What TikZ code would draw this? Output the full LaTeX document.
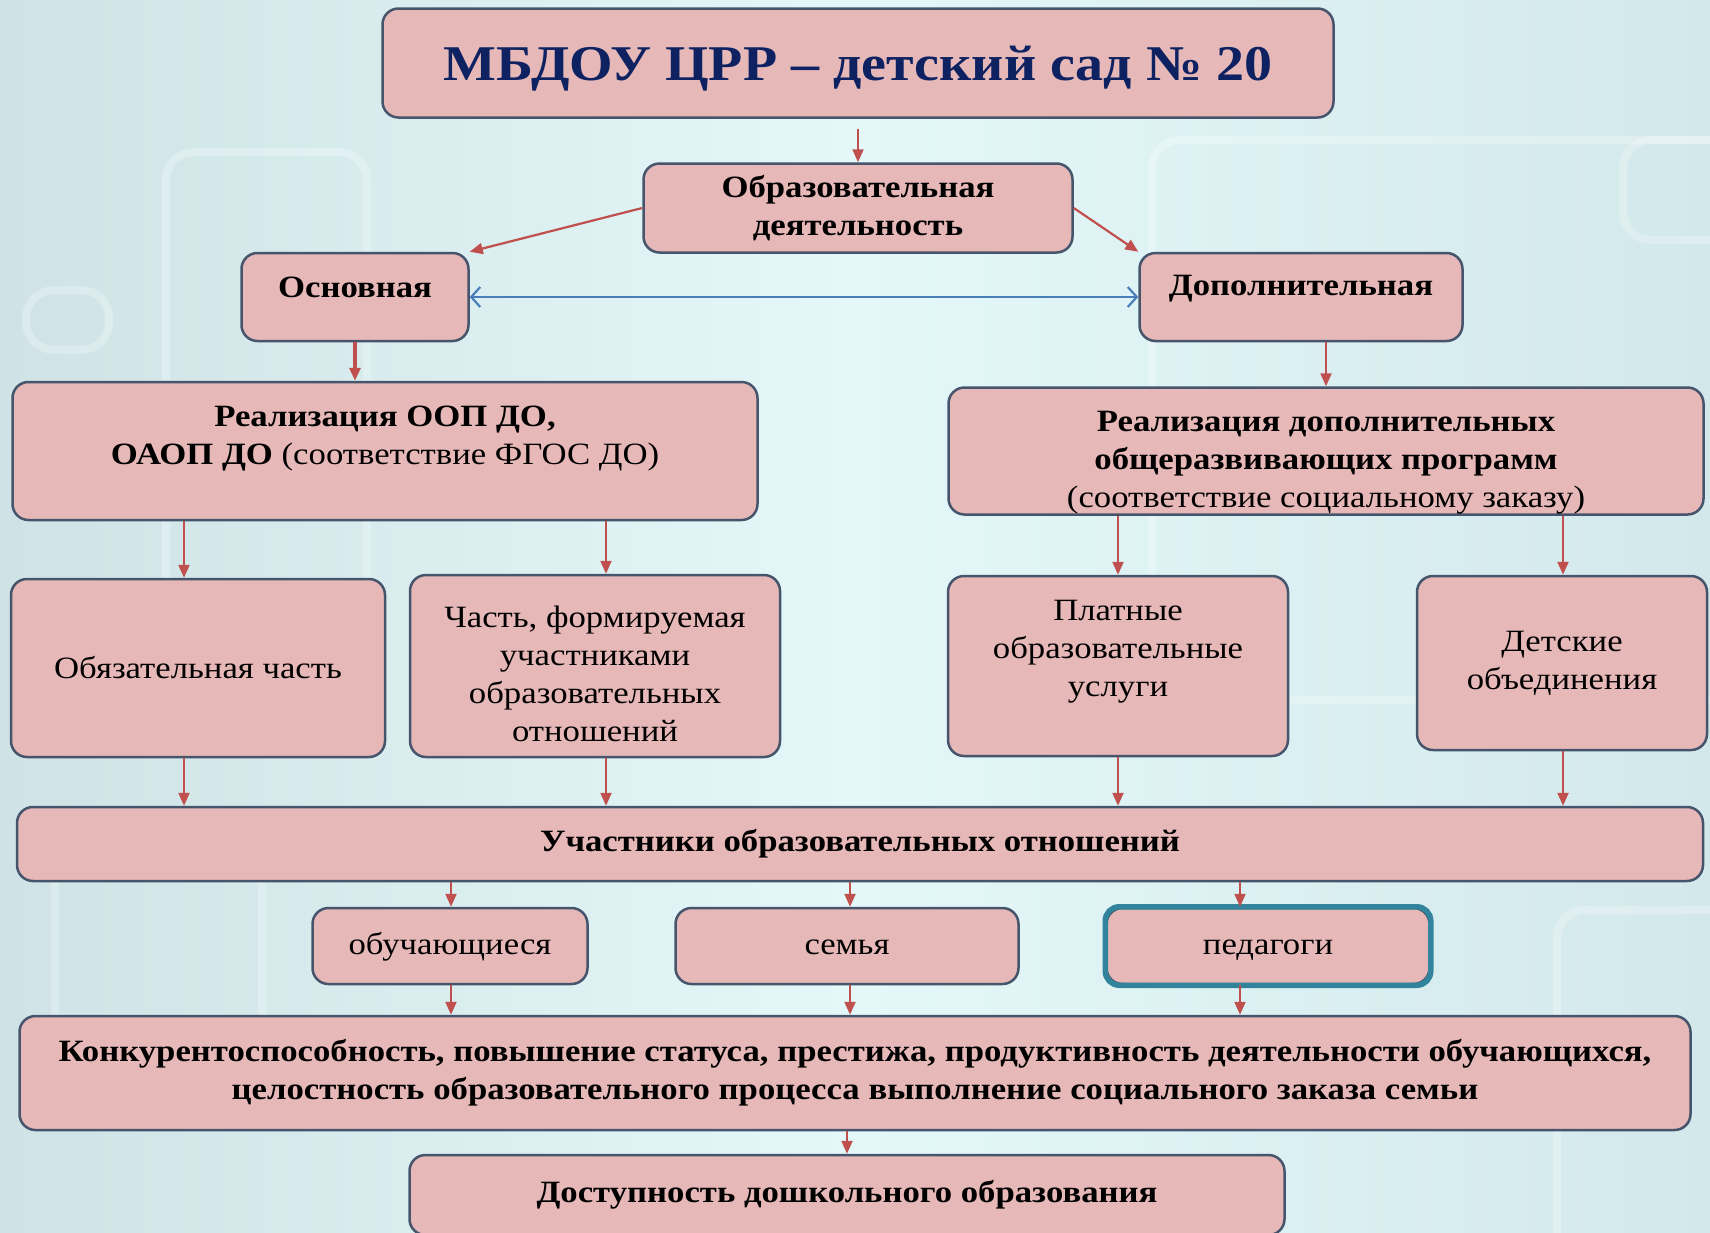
\documentclass[tikz,border=0pt]{standalone}
\usepackage{fontspec}
\setmainfont[FakeStretch=1.12]{Liberation Serif}
\usetikzlibrary{arrows.meta}

\definecolor{boxfill}{HTML}{E6B8B7}
\definecolor{boxline}{HTML}{46556B}
\definecolor{arrowred}{HTML}{C0504D}
\definecolor{arrowblue}{HTML}{4A7EBB}
\definecolor{titleblue}{HTML}{0E2262}
\definecolor{tealline}{HTML}{31849B}
\definecolor{bgleft}{HTML}{CFE3E6}
\definecolor{bgmid}{HTML}{E4F8F9}
\definecolor{bgright}{HTML}{D3E8EB}

\begin{document}
\begin{tikzpicture}[x=1pt,y=-1pt,
    box/.style={draw=boxline, line width=2.5pt, fill=boxfill, rounded corners=16pt,
        inner sep=0pt, align=center, font=\fontsize{31}{38}\selectfont},
    lbl/.style={align=center, font=\fontsize{31}{38}\selectfont},
    arr/.style={draw=arrowred, line width=2.2pt, -{Triangle[length=13pt,width=11pt]}},
    link/.style={draw=arrowblue, line width=2.2pt, {Straight Barb[length=9pt,width=20pt]}-{Straight Barb[length=9pt,width=20pt]}},
    deco/.style={draw=white, opacity=0.25, line width=8pt, rounded corners=28pt}]
    \useasboundingbox (0,0) rectangle (1710,1232);
    % Background
    \fill[left color=bgleft, right color=bgright, middle color=bgmid] (0,0) rectangle (1710,1232);
    \draw[deco] (166,152) rectangle (367,720);
    \draw[deco] (26,290) rectangle (109,350);
    \draw[deco] (1152,140) rectangle (1760,700);
    \draw[deco] (1623,140) rectangle (1760,240);
    \draw[deco] (55,860) rectangle (262,1090);
    \draw[deco] (1557,910) rectangle (1760,1300);
    % Top
    \node[box, minimum width=951pt, minimum height=109pt, text depth=0pt,
        font=\fontsize{50}{60}\selectfont\bfseries, text=titleblue] (Top) at (858,63)
        {МБДОУ ЦРР – детский сад №~20};
    \node[box, minimum width=429pt, minimum height=89pt, font=\fontsize{31}{38}\selectfont\bfseries]
        (Activity) at (858,208) {Образовательная\\деятельность};
    % Main and Extra
    \foreach \name/\x/\w/\s/\i in {Основная/355/227/10/Main,Дополнительная/1301/323/8/Extra} {
        \node[box, minimum width=\w pt, minimum height=88pt,
            label={[lbl, font=\fontsize{31}{38}\selectfont\bfseries, yshift=\s pt]center:\name}]
            (\i) at (\x,297) {};
    }
    % Programmes
    \node[box, minimum width=745pt, minimum height=138pt,
        label={[lbl, yshift=12pt]center:\textbf{Реализация ООП ДО,}\\\textbf{ОАОП ДО} (соответствие ФГОС ДО)}]
        (ProgMain) at (385,451) {};
    \node[box, minimum width=755pt, minimum height=127pt,
        label={[lbl, yshift=-12pt]center:\textbf{Реализация дополнительных}\\\textbf{общеразвивающих программ}\\(соответствие социальному заказу)}]
        (ProgExtra) at (1326,451) {};
    % Parts
    \foreach \name/\x/\y/\w/\h/\s/\i in {
        {Обязательная часть}/198/668/374/178/0/1,
        {Часть, формируемая\\участниками\\образовательных\\отношений}/595/666/370/182/-8/2,
        {Платные\\образовательные\\услуги}/1118/666/340/180/14/3,
        {Детские\\объединения}/1562/663/290/174/0/4} {
        \node[box, minimum width=\w pt, minimum height=\h pt,
            label={[lbl, yshift=\s pt]center:\name}] (Part-\i) at (\x,\y) {};
    }
    \node[box, minimum width=1686pt, minimum height=74pt, font=\fontsize{31}{38}\selectfont\bfseries]
        (Members) at (860,844) {Участники образовательных отношений};
    % Groups
    \foreach \name/\x/\w/\i in {обучающиеся/450/275/1,семья/847/343/2,педагоги/1268/323/3} {
        \node[box, minimum width=\w pt, minimum height=76pt, text height=21pt, text depth=5pt]
            (Group-\i) at (\x,946) {\name};
        \ifnum \i=3
            \draw[tealline, line width=5.5pt, rounded corners=14pt]
                (Group-\i.south west) rectangle (Group-\i.north east);
        \fi
    }
    \node[box, minimum width=1671pt, minimum height=114pt, font=\fontsize{31}{38}\selectfont\bfseries]
        (Result) at (855,1073) {Конкурентоспособность, повышение статуса, престижа, продуктивность деятельности обучающихся,\\
        целостность образовательного процесса выполнение социального заказа семьи};
    \node[box, minimum width=875pt, minimum height=80pt, font=\fontsize{31}{38}\selectfont\bfseries]
        (Access) at (847,1195) {Доступность дошкольного образования};
    % Columns
    \foreach \x/\i in {184/1,606/2,1118/3,1563/4} {
        \coordinate (Col-\i) at (\x,0);
    }
    \foreach \x/\i in {451/1,850/2,1240/3} {
        \coordinate (Sub-\i) at (\x,0);
    }
    % Arrows
    \draw[arr] ([yshift=-10pt]Top.south) -- (Activity.north);
    \draw[arr] (Activity.west) -- (Main.north east);
    \draw[arr] (Activity.east) -- (Extra.north west);
    \draw[link] (Main.east) -- (Extra.west);
    \draw[arr, line width=4pt] (Main.south) -- (Main.south |- ProgMain.north);
    \draw[arr] (Extra.south -| ProgExtra.north) -- (ProgExtra.north);
    \foreach \p/\i in {ProgMain/1,ProgMain/2,ProgExtra/3,ProgExtra/4} {
        \draw[arr] (\p.south -| Col-\i) -- (Part-\i.north -| Col-\i);
        \draw[arr] (Part-\i.south -| Col-\i) -- (Members.north -| Col-\i);
    }
    \foreach \i in {1,2,3} {
        \draw[arr] (Members.south -| Sub-\i) -- (Group-\i.north -| Sub-\i);
        \draw[arr] (Group-\i.south -| Sub-\i) -- (Result.north -| Sub-\i);
    }
    \draw[arr] (Result.south -| Access.north) -- (Access.north);
\end{tikzpicture}
\end{document}
